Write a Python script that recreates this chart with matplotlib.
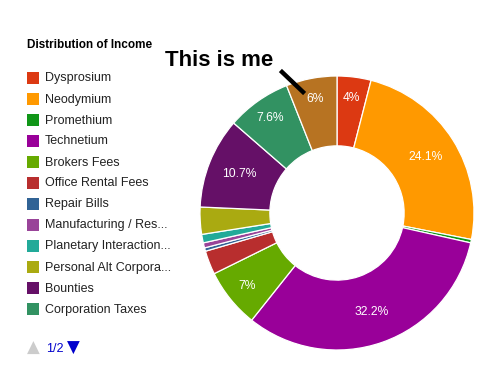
import numpy as np
import matplotlib.pyplot as plt
from matplotlib.patches import Rectangle

# Data
names = ["Dysprosium", "Neodymium", "Promethium", "Technetium", "Brokers Fees",
         "Office Rental Fees", "Repair Bills", "Manufacturing / Research",
         "Planetary Interaction", "Personal Alt Corporations", "Bounties",
         "Corporation Taxes", "Player Donations"]
values = [4.0, 24.1, 0.4, 32.2, 7.0, 2.8, 0.4, 0.6, 1.0, 3.2, 10.7, 7.6, 6.0]
colors = ["#dc3912", "#ff9900", "#109618", "#990099", "#66aa00", "#b82e2e",
          "#316395", "#994499", "#22aa99", "#aaaa11", "#651067", "#329262",
          "#b77322"]
legend_labels = ["Dysprosium", "Neodymium", "Promethium", "Technetium", "Brokers Fees",
                 "Office Rental Fees", "Repair Bills", "Manufacturing / Res...",
                 "Planetary Interaction...", "Personal Alt Corpora...", "Bounties",
                 "Corporation Taxes"]

W, H = 480, 365
fig = plt.figure(figsize=(W / 100, H / 100), dpi=100)

def px(x, y):
    return x / W, 1 - y / H

# donut
cx, cy, r = 337, 213, 137
ax = fig.add_axes([(cx - r) / W, 1 - (cy + r) / H, 2 * r / W, 2 * r / H])

def fmt(p):
    if p < 3.5:
        return ""
    s = f"{p:.1f}"
    if s.endswith(".0"):
        s = s[:-2]
    return s + "%"

wedges, texts, autotexts = ax.pie(values, colors=colors, startangle=90, counterclock=False,
                                  radius=1, autopct=fmt, pctdistance=0.765,
                                  wedgeprops=dict(width=0.51, edgecolor="white", linewidth=0.9),
                                  textprops=dict(color="white", fontsize=8.7, family="Liberation Sans"))
# narrow slices get their label pushed out a bit
tot = sum(values)
for w, t, v in zip(wedges, autotexts, values):
    if t.get_text() and v / tot * 100 < 10:
        a = np.deg2rad((w.theta1 + w.theta2) / 2)
        t.set_position((0.845 * np.cos(a), 0.845 * np.sin(a)))
ax.set_xlim(-1, 1)
ax.set_ylim(-1, 1)
ax.axis("off")

# title + legend
fig.text(*px(27, 45), "Distribution of Income", fontsize=8.5, fontweight="bold",
         family="Liberation Sans", va="center", ha="left", color="#000000")
for i, lab in enumerate(legend_labels):
    yc = 78 + i * 21
    x0, y0 = px(27, yc + 6)
    fig.patches.append(Rectangle((x0, y0), 12 / W, 12 / H, transform=fig.transFigure,
                                 facecolor=colors[i], edgecolor="none"))
    fig.text(*px(45, yc + 0.5), lab, fontsize=9, family="Liberation Sans", va="center",
             ha="left", color="#222222")

fig.text(*px(27, 348), "▲", fontsize=12, color="#cccccc", va="center", ha="left")
fig.text(*px(46, 349), "1/2", fontsize=9, family="Liberation Sans", color="#0000cc",
         va="center", ha="left")
fig.text(*px(67, 348), "▼", fontsize=12, color="#0000cc", va="center", ha="left")

# annotation
fig.text(*px(165, 60), "This is me", fontsize=16, fontweight="bold",
         family="Liberation Sans", va="center", ha="left", color="black")
fig.add_artist(plt.Line2D([282 / W, 303 / W], [1 - 72 / H, 1 - 92 / H],
                          transform=fig.transFigure, color="black", linewidth=3.2))

fig.savefig("out.png", dpi=100, facecolor="white")
